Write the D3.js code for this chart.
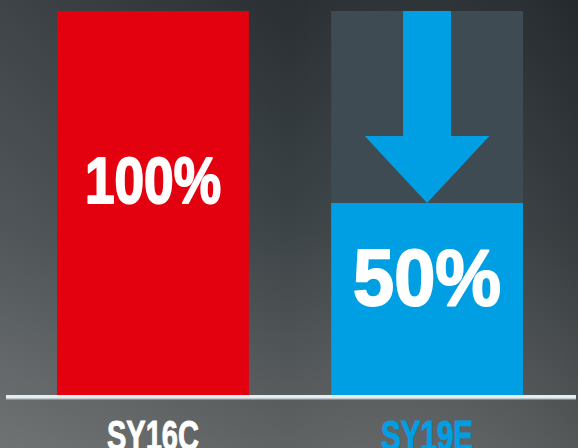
<!DOCTYPE html>
<html>
<head>
<meta charset="utf-8">
<script src="https://cdn.jsdelivr.net/npm/d3@7"></script>
<style>
  body { margin: 0; background: #2e3437; }
  svg { display: block; }
</style>
</head>
<body>
<div id="chart"></div>
<script>
// chart data
var categories = ["SY16C", "SY19E"];
var values = [100, 50];
var fullValue = 100;           // grey "before" bar behind SY19E
var valueLabels = ["100%", "50%"];

var width = 578, height = 448;

var svg = d3.select("#chart").append("svg")
    .attr("width", width)
    .attr("height", height);

// background gradients
var defs = svg.append("defs");
var vg = defs.append("linearGradient").attr("id", "bgV")
    .attr("x1", 0).attr("y1", 0).attr("x2", 0).attr("y2", 1);
vg.append("stop").attr("offset", 0).attr("stop-color", "#292f33");
vg.append("stop").attr("offset", 0.5).attr("stop-color", "#3c4346");
vg.append("stop").attr("offset", 1).attr("stop-color", "#606364");
var hg = defs.append("linearGradient").attr("id", "bgH")
    .attr("x1", 0).attr("y1", 0).attr("x2", 1).attr("y2", 0);
hg.append("stop").attr("offset", 0).attr("stop-color", "#ffffff").attr("stop-opacity", 0.1);
hg.append("stop").attr("offset", 0.5).attr("stop-color", "#ffffff").attr("stop-opacity", 0);
hg.append("stop").attr("offset", 1).attr("stop-color", "#000000").attr("stop-opacity", 0.12);

svg.append("rect").attr("width", width).attr("height", height).attr("fill", "url(#bgV)");
svg.append("rect").attr("width", width).attr("height", height).attr("fill", "url(#bgH)");

// scales
var x = d3.scaleBand()
    .domain(categories)
    .range([57, 523])
    .paddingInner(0.3)
    .paddingOuter(0);

var y = d3.scaleLinear()
    .domain([0, 100])
    .range([395, 11]);

var bw = x.bandwidth();
var colors = {"SY16C": "#e3000f", "SY19E": "#009fe3"};

// grey full-height bar behind the reduced one
svg.append("rect")
    .attr("x", x("SY19E"))
    .attr("y", y(fullValue))
    .attr("width", bw)
    .attr("height", y(0) - y(fullValue))
    .attr("fill", "#3e4b52");

// bars
svg.selectAll("rect.bar")
    .data(categories)
    .enter().append("rect")
    .attr("class", "bar")
    .attr("x", function(d) { return x(d); })
    .attr("y", function(d, i) { return y(values[i]); })
    .attr("width", bw)
    .attr("height", function(d, i) { return y(0) - y(values[i]); })
    .attr("fill", function(d) { return colors[d]; });

// down arrow from the old height to the new one
var cx = x("SY19E") + bw / 2;
var shaftW = bw * 0.25, headW = bw * 0.65, headH = 67;
var tipY = y(values[1]), topY = y(fullValue);
var arrow = d3.path();
arrow.moveTo(cx - shaftW / 2, topY);
arrow.lineTo(cx + shaftW / 2, topY);
arrow.lineTo(cx + shaftW / 2, tipY - headH);
arrow.lineTo(cx + headW / 2, tipY - headH);
arrow.lineTo(cx, tipY);
arrow.lineTo(cx - headW / 2, tipY - headH);
arrow.lineTo(cx - shaftW / 2, tipY - headH);
arrow.closePath();
svg.append("path")
    .attr("d", arrow.toString())
    .attr("fill", "#009fe3");

// value labels inside bars (heavy condensed look: squeezed + stroked)
var labelFont = "'Liberation Sans', Arial, sans-serif";
var labelSpec = [
    {size: 64, len: 136, base: 203},
    {size: 80, len: 148, base: 305}
];
svg.selectAll("text.val")
    .data(valueLabels)
    .enter().append("text")
    .attr("class", "val")
    .attr("x", function(d, i) { return x(categories[i]) + bw / 2; })
    .attr("y", function(d, i) { return labelSpec[i].base; })
    .attr("text-anchor", "middle")
    .attr("font-family", labelFont)
    .attr("font-weight", "bold")
    .attr("font-size", function(d, i) { return labelSpec[i].size; })
    .attr("textLength", function(d, i) { return labelSpec[i].len; })
    .attr("lengthAdjust", "spacingAndGlyphs")
    .attr("fill", "#ffffff")
    .attr("stroke", "#ffffff")
    .attr("stroke-width", 2)
    .attr("stroke-linejoin", "round")
    .text(function(d) { return d; });

// baseline
svg.append("rect")
    .attr("x", 6).attr("y", 398)
    .attr("width", 570).attr("height", 1.5)
    .attr("fill", "#b9c0c3");
svg.append("rect")
    .attr("x", 6).attr("y", 395)
    .attr("width", 570).attr("height", 3.2)
    .attr("fill", "#e6edf0");

// category labels
svg.selectAll("text.cat")
    .data(categories)
    .enter().append("text")
    .attr("class", "cat")
    .attr("x", function(d) { return x(d) + bw / 2; })
    .attr("y", 450)
    .attr("text-anchor", "middle")
    .attr("font-family", labelFont)
    .attr("font-weight", "bold")
    .attr("font-size", 43)
    .attr("textLength", 92)
    .attr("lengthAdjust", "spacingAndGlyphs")
    .attr("fill", function(d, i) { return i === 0 ? "#ffffff" : "#009fe3"; })
    .attr("stroke", function(d, i) { return i === 0 ? "#ffffff" : "#009fe3"; })
    .attr("stroke-width", 1)
    .text(function(d) { return d; });
</script>
</body>
</html>
